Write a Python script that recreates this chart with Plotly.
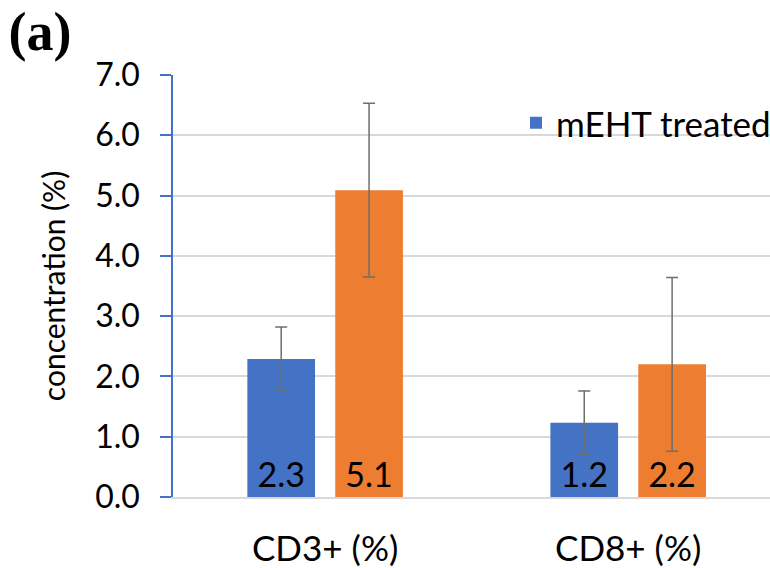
import plotly.graph_objects as go

categories = ["CD3+ (%)", "CD8+ (%)"]
treated_values = [2.29, 1.23]
treated_err = [0.53, 0.53]
control_values = [5.09, 2.20]
control_err = [1.44, 1.44]
y_ticks = [0, 1, 2, 3, 4, 5, 6, 7]
y_ticklabels = ["0.0", "1.0", "2.0", "3.0", "4.0", "5.0", "6.0", "7.0"]

FONT = "Lato"
fig = go.Figure()
fig.add_trace(go.Bar(
    x=categories, y=treated_values, name="mEHT treated",
    marker=dict(color="#4472C4", line=dict(width=0)),
    error_y=dict(type="data", array=treated_err, color="#6E6E6E", thickness=1.5, width=6),
    texttemplate="%{y:.1f}", textposition="inside", insidetextanchor="start",
    insidetextfont=dict(family=FONT, size=34, color="black"),
))
fig.add_trace(go.Bar(
    x=categories, y=control_values, name="control", showlegend=False,
    marker=dict(color="#ED7D31", line=dict(width=0)),
    error_y=dict(type="data", array=control_err, color="#6E6E6E", thickness=1.5, width=6),
    texttemplate="%{y:.1f}", textposition="inside", insidetextanchor="start",
    insidetextfont=dict(family=FONT, size=34, color="black"),
))

fig.update_layout(
    width=770, height=568,
    margin=dict(l=173, r=0, t=75, b=71, autoexpand=False),
    paper_bgcolor="white", plot_bgcolor="white",
    font=dict(family=FONT, size=32, color="black"),
    barmode="group", bargap=0.42, bargroupgap=0.23,
    title=dict(text="<b>(a)</b>", font=dict(family="Liberation Serif", size=54, color="black"),
               x=0.011, xanchor="left", y=0.946, yanchor="middle"),
    showlegend=True,
    legend=dict(x=0.5745, y=0.886, xanchor="left", yanchor="middle",
                font=dict(family=FONT, size=35, color="black"), bgcolor="rgba(0,0,0,0)"),
)
fig.update_xaxes(
    range=[-0.502, 1.468], showgrid=False, showline=True, linecolor="#D9D9D9", linewidth=1.5,
    ticks="", ticklabelstandoff=20, automargin=False,
    tickfont=dict(family=FONT, size=35, color="black"),
)
fig.update_yaxes(
    range=[0, 7], tickvals=y_ticks, ticktext=y_ticklabels,
    showgrid=True, gridcolor="#D9D9D9", gridwidth=1.5,
    showline=True, linecolor="#4472C4", linewidth=1.5,
    ticks="outside", ticklen=11, tickcolor="#4472C4", tickwidth=1.5,
    ticklabelstandoff=14, zeroline=False, automargin=False,
    title=dict(text="concentration (%)", font=dict(family=FONT, size=30, color="black"), standoff=21),
    tickfont=dict(family=FONT, size=32, color="black"),
)
fig.write_html("out.html", config={"displayModeBar": False},
               post_script="document.body.style.margin='0';document.body.style.overflow='hidden';")
